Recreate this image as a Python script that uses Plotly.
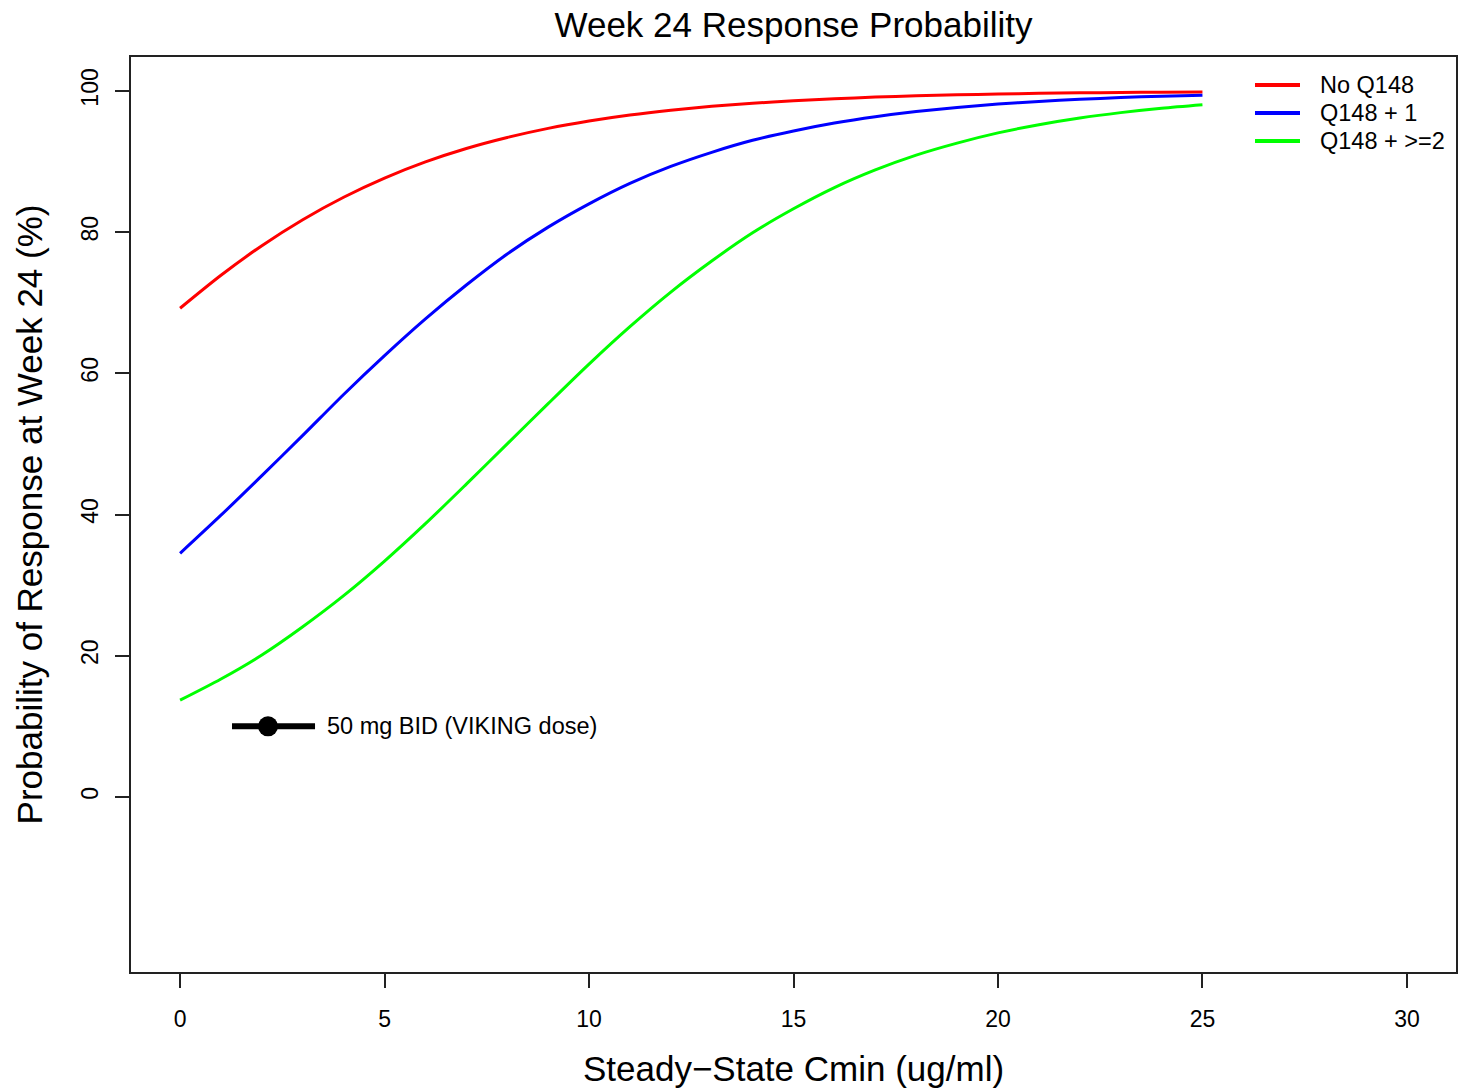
import plotly.graph_objects as go

# Data
cmin = list(range(0, 26))
no_q148 = [69.21, 73.88, 78.08, 81.76, 84.94, 87.65, 89.94, 91.84, 93.40, 94.69, 95.73, 96.58, 97.26,
           97.81, 98.25, 98.61, 98.89, 99.12, 99.30, 99.44, 99.55, 99.65, 99.72, 99.78, 99.82, 99.86]
q148_1 = [34.5, 39.9, 45.5, 51.2, 57.0, 62.5, 67.7, 72.5, 76.9, 80.7, 84.0, 86.9, 89.3,
          91.3, 93.0, 94.32, 95.44, 96.34, 97.07, 97.66, 98.13, 98.51, 98.81, 99.05, 99.25, 99.40]
q148_2 = [13.7, 16.7, 20.1, 24.1, 28.5, 33.4, 38.7, 44.3, 50.0, 55.7, 61.3, 66.6, 71.5,
          75.9, 79.9, 83.3, 86.3, 88.8, 90.9, 92.6, 94.05, 95.21, 96.16, 96.92, 97.54, 98.04]
series_names = ["No Q148", "Q148 + 1", "Q148 + >=2"]
series_colors = ["#ff0000", "#0000ff", "#00ff00"]

dose_range_x = [1.27, 3.3]
dose_y = 10
dose_point_x = 2.15
dose_label = "50 mg BID (VIKING dose)"
dose_label_x = 3.55

x_ticks = [0, 5, 10, 15, 20, 25, 30]
y_ticks = [0, 20, 40, 60, 80, 100]

FONT = "Liberation Sans, Arial, sans-serif"
W, H = 1461, 1088
ML, MR, MT, MB = 131, 5, 57, 116
PW, PH = W - ML - MR, H - MT - MB

fig = go.Figure()
for vals, name, col in zip([no_q148, q148_1, q148_2], series_names, series_colors):
    fig.add_trace(go.Scatter(x=cmin, y=vals, mode="lines", name=name, showlegend=False,
                             line=dict(color=col, width=3, shape="spline", smoothing=0.8)))

fig.add_trace(go.Scatter(x=dose_range_x, y=[dose_y, dose_y], mode="lines",
                         line=dict(color="black", width=6), showlegend=False))
fig.add_trace(go.Scatter(x=[dose_point_x], y=[dose_y], mode="markers",
                         marker=dict(color="black", size=20), showlegend=False))
fig.add_annotation(x=dose_label_x, y=dose_y, text=dose_label, showarrow=False,
                   xanchor="left", yanchor="middle",
                   font=dict(family=FONT, size=23.5, color="black"))

# Legend (R-style, no box): drawn in paper coordinates
def px_x(p):
    return (p - ML) / PW

def px_y(p):
    return 1 - (p - MT) / PH

for i, (name, col) in enumerate(zip(series_names, series_colors)):
    yy = px_y(85 + 28 * i)
    fig.add_shape(type="line", xref="paper", yref="paper", x0=px_x(1255), x1=px_x(1300),
                  y0=yy, y1=yy, line=dict(color=col, width=4))
    fig.add_annotation(xref="paper", yref="paper", x=px_x(1318), y=yy, text=name,
                       showarrow=False, xanchor="left", yanchor="middle",
                       font=dict(family=FONT, size=23.5, color="black"))

fig.update_layout(
    width=W, height=H,
    margin=dict(l=ML, r=MR, t=MT, b=MB, autoexpand=False),
    paper_bgcolor="white", plot_bgcolor="white",
    font=dict(family=FONT, color="black"),
    title=dict(text="Week 24 Response Probability", x=793.5 / W, xanchor="center",
               y=1 - 25 / H, yanchor="middle", font=dict(size=35, family=FONT, color="black")),
    showlegend=False,
)

fig.update_xaxes(range=[-1.2, 31.2], tickvals=x_ticks, ticktext=[str(v) for v in x_ticks],
                 showgrid=False, zeroline=False, automargin=False,
                 showline=True, linecolor="#222", linewidth=1.5, mirror=True,
                 ticks="outside", ticklen=14, tickwidth=1.5, tickcolor="#222",
                 tickfont=dict(size=23, family=FONT, color="black"),
                 ticklabelstandoff=12,
                 title=dict(text="Steady\u2212State Cmin (ug/ml)", standoff=26,
                            font=dict(size=35, family=FONT, color="black")))
fig.update_yaxes(range=[-24.8, 104.8], tickvals=y_ticks, ticktext=[str(v) for v in y_ticks],
                 showgrid=False, zeroline=False, automargin=False,
                 showline=True, linecolor="#222", linewidth=1.5, mirror=True,
                 ticks="outside", ticklen=14, tickwidth=1.5, tickcolor="#222",
                 tickangle=-90,
                 tickfont=dict(size=23, family=FONT, color="black"),
                 ticklabelstandoff=8,
                 title=dict(text="Probability of Response at Week 24 (%)", standoff=24,
                            font=dict(size=35, family=FONT, color="black")))

fig.write_html("out.html")
